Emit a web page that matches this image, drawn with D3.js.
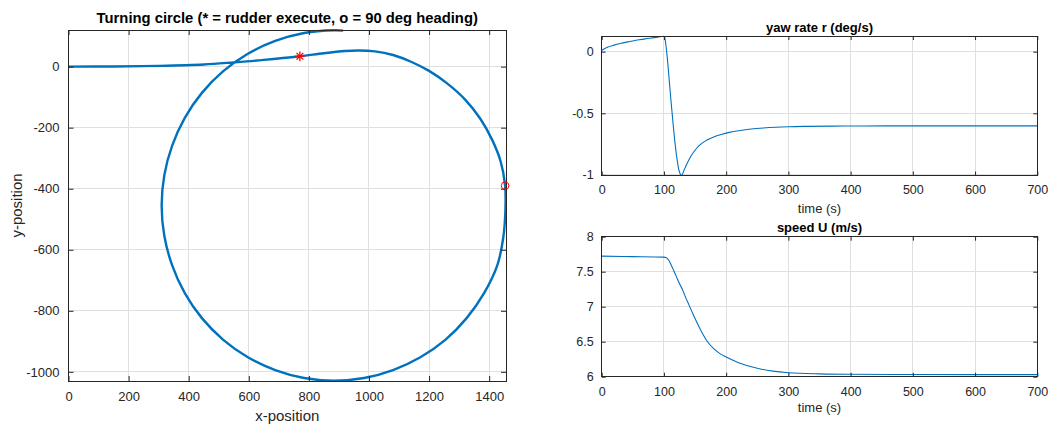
<!DOCTYPE html>
<html><head><meta charset="utf-8">
<script src="https://cdn.jsdelivr.net/npm/d3@7"></script>
<style>
body{margin:0;background:#fff}
svg{display:block;font-family:"Liberation Sans",Arial,Helvetica,sans-serif}
</style>
</head><body>
<svg id="c" width="1051" height="424"></svg>
<script>
// ---- Data ----
const posX = [0,150,300,450,550,650,770,850,920,965,1020,1080,1140,1200,1260,1320,1370,1410,1438,1453,1454,1447,1427,1383,1325,1254,1171,1080,984,884,784,688,597,515,444,387,345,319,310,319,345,387,444,515,597,688,784,884,914];
const posY = [0,0.5,2.5,7,14,22,34,44,51,53,50,38,16,-14,-55,-108,-170,-240,-310,-390,-470,-560,-651,-742,-824,-895,-952,-994,-1020,-1029,-1020,-994,-952,-895,-824,-742,-651,-555,-455,-355,-259,-168,-86,-15,42,84,110,119,118];
const rudderX = [770], rudderY = [34];
const headingX = [1453], headingY = [-390];
const posXTicks = [0,200,400,600,800,1000,1200,1400];
const posYTicks = [-1000,-800,-600,-400,-200,0];
const posXLim = [0,1456], posYLim = [-1030,120];

const yawT = [0,5,10,20,30,40,50,60,70,80,90,100,101,103,105,108,111,115,118,121,124,126,128,130,133,136,140,145,150,156,162,170,180,192,205,220,240,260,280,300,330,370,420,500,600,700];
const yawR = [0.01,0.025,0.037,0.053,0.066,0.077,0.087,0.096,0.104,0.111,0.118,0.125,0.12,0.06,-0.03,-0.2,-0.38,-0.6,-0.75,-0.87,-0.96,-0.99,-1.005,-0.99,-0.955,-0.92,-0.88,-0.835,-0.80,-0.765,-0.74,-0.715,-0.692,-0.672,-0.655,-0.642,-0.628,-0.619,-0.613,-0.609,-0.606,-0.604,-0.603,-0.602,-0.602,-0.602];
const yawTicks = [-1,-0.5,0];
const yawLim = [-1.005,0.127];

const spdT = [0,50,100,104,108,112,116,120,125,130,135,140,145,150,160,170,180,190,200,220,250,275,300,350,400,500,600,700];
const spdU = [7.722,7.716,7.708,7.70,7.66,7.59,7.51,7.43,7.33,7.24,7.13,7.03,6.93,6.83,6.65,6.50,6.40,6.33,6.28,6.20,6.12,6.08,6.057,6.04,6.034,6.031,6.03,6.03];
const spdTicks = [6,6.5,7,7.5,8];
const spdLim = [6,8];

const timeTicks = [0,100,200,300,400,500,600,700];
const timeLim = [0,700];

// ---- Drawing ----
const svg = d3.select("#c");
const LINE = "#0072BD", TXT = "#262626", GRID = "#dfdfdf";
let clipId = 0;

function panel(o){
  const x = d3.scaleLinear().domain(o.xLim).range([o.left,o.right]);
  const y = d3.scaleLinear().domain(o.yLim).range([o.bottom,o.top]);
  const g = svg.append("g");
  g.append("g").selectAll("line").data(o.xTicks).join("line")
    .attr("x1",d=>x(d)).attr("x2",d=>x(d)).attr("y1",o.top).attr("y2",o.bottom)
    .attr("stroke",GRID).attr("stroke-width",1).attr("shape-rendering","crispEdges");
  g.append("g").selectAll("line").data(o.yTicks).join("line")
    .attr("y1",d=>y(d)).attr("y2",d=>y(d)).attr("x1",o.left).attr("x2",o.right)
    .attr("stroke",GRID).attr("stroke-width",1).attr("shape-rendering","crispEdges");
  const id = "clip"+(clipId++);
  svg.append("clipPath").attr("id",id).append("rect")
    .attr("x",o.left).attr("y",o.top-1).attr("width",o.right-o.left).attr("height",o.bottom-o.top+2);
  const dg = g.append("g").attr("clip-path",`url(#${id})`);
  const tl = o.tick || 4;
  const ax = (gen, tr) => g.append("g").attr("transform",tr).call(gen)
    .call(s=>{s.select(".domain").remove(); s.selectAll("line").attr("stroke",TXT);});
  const bx = ax(d3.axisBottom(x).tickValues(o.xTicks).tickSize(-tl).tickPadding(tl+6).tickFormat(d=>String(d)), `translate(0,${o.bottom})`);
  bx.selectAll("text").attr("fill",TXT).style("font-size",o.tickFont+"px").style("font-family","inherit");
  ax(d3.axisTop(x).tickValues(o.xTicks).tickSize(-tl).tickFormat(""), `translate(0,${o.top})`);
  const lx = ax(d3.axisLeft(y).tickValues(o.yTicks).tickSize(-tl).tickPadding(tl+4).tickFormat(d=>String(d)), `translate(${o.left},0)`);
  lx.selectAll("text").attr("fill",TXT).style("font-size",o.tickFont+"px").style("font-family","inherit");
  ax(d3.axisRight(y).tickValues(o.yTicks).tickSize(-tl).tickFormat(""), `translate(${o.right},0)`);
  g.append("rect").attr("x",o.left).attr("y",o.top).attr("width",o.right-o.left).attr("height",o.bottom-o.top)
    .attr("fill","none").attr("stroke",TXT).attr("stroke-width",1).attr("shape-rendering","crispEdges");
  g.append("text").attr("x",(o.left+o.right)/2).attr("y",o.titleY).attr("text-anchor","middle")
    .attr("fill","#000").style("font-weight","bold").style("font-size",o.titleFont+"px").text(o.title);
  if (o.xLabel) g.append("text").attr("x",(o.left+o.right)/2).attr("y",o.xLabelY).attr("text-anchor","middle")
    .attr("fill",TXT).style("font-size",o.labelFont+"px").text(o.xLabel);
  if (o.yLabel) g.append("text").attr("transform",`translate(${o.yLabelX},${(o.top+o.bottom)/2}) rotate(-90)`)
    .attr("text-anchor","middle").attr("fill",TXT).style("font-size",o.labelFont+"px").text(o.yLabel);
  return {x,y,dg,g};
}

// Left: turning circle
const P = panel({left:68.5,right:506,top:30,bottom:381,xLim:posXLim,yLim:posYLim,xTicks:posXTicks,yTicks:posYTicks,
  tick:5,tickFont:13,titleFont:14.8,labelFont:15,titleY:23,title:"Turning circle (* = rudder execute, o = 90 deg heading)",
  xLabel:"x-position",xLabelY:421,yLabel:"y-position",yLabelX:22});
P.dg.append("path").datum(d3.range(posX.length))
  .attr("d",d3.line().x(i=>P.x(posX[i])).y(i=>P.y(posY[i])).curve(d3.curveCatmullRom.alpha(0.5)))
  .attr("fill","none").attr("stroke",LINE).attr("stroke-width",2.4);
const starG = P.g.append("g");
rudderX.forEach((v,i)=>{
  const cx=P.x(v), cy=P.y(rudderY[i]), r=4.8;
  [0,45,90,135].forEach(a=>{
    const rad=a*Math.PI/180;
    starG.append("line").attr("x1",cx-r*Math.cos(rad)).attr("y1",cy-r*Math.sin(rad))
      .attr("x2",cx+r*Math.cos(rad)).attr("y2",cy+r*Math.sin(rad))
      .attr("stroke","#ff0000").attr("stroke-width",1.3);
  });
});
P.g.selectAll("circle.h").data(headingX).join("circle").attr("class","h")
  .attr("cx",(d)=>P.x(d)).attr("cy",(d,i)=>P.y(headingY[i])).attr("r",3.8)
  .attr("fill","none").attr("stroke","#ff0000").attr("stroke-width",1);

// Right top: yaw rate
const Y = panel({left:601.7,right:1037.3,top:36,bottom:175.5,xLim:timeLim,yLim:yawLim,xTicks:timeTicks,yTicks:yawTicks,
  tick:4,tickFont:12.5,titleFont:13,labelFont:13,titleY:32,title:"yaw rate r (deg/s)",xLabel:"time (s)",xLabelY:213});
Y.dg.append("path").datum(d3.range(yawT.length))
  .attr("d",d3.line().x(i=>Y.x(yawT[i])).y(i=>Y.y(yawR[i])).curve(d3.curveMonotoneX))
  .attr("fill","none").attr("stroke",LINE).attr("stroke-width",1.1);

// Right bottom: speed
const S = panel({left:601.7,right:1037.3,top:236.7,bottom:376.7,xLim:timeLim,yLim:spdLim,xTicks:timeTicks,yTicks:spdTicks,
  tick:4,tickFont:12.5,titleFont:13,labelFont:13,titleY:232,title:"speed U (m/s)",xLabel:"time (s)",xLabelY:412});
S.dg.append("path").datum(d3.range(spdT.length))
  .attr("d",d3.line().x(i=>S.x(spdT[i])).y(i=>S.y(spdU[i])).curve(d3.curveMonotoneX))
  .attr("fill","none").attr("stroke",LINE).attr("stroke-width",1.1);
</script>
</body></html>
